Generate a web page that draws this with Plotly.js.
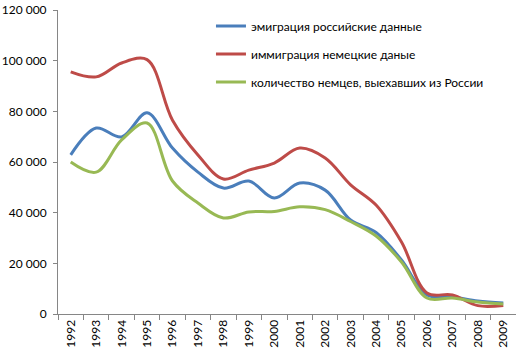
<!DOCTYPE html>
<html><head><meta charset="utf-8">
<script src="https://cdn.plot.ly/plotly-3.0.1.min.js"></script>
<style>html,body{margin:0;padding:0;background:#fff}#chart{width:516px;height:354px}</style>
</head><body><div id="chart"></div>
<script>
var years = ["1992","1993","1994","1995","1996","1997","1998","1999","2000","2001","2002","2003","2004","2005","2006","2007","2008","2009"];
var emigrationRu = [62800,73400,69900,79400,65500,56000,49700,52500,45800,51700,48900,37100,32200,21300,7500,6700,5100,4300];
var immigrationDe = [95600,93600,99100,100400,76500,62800,53300,56800,59600,65500,61600,51000,43000,28400,8300,7500,3300,3400];
var germansLeft = [60000,56000,68700,75400,52500,43800,37900,40300,40500,42300,41200,36500,30800,20500,6300,6300,4700,3900];
var names = ["эмиграция российские данные","иммиграция немецкие даные","количество немцев, выехавших из России"];
var colors = ["#4a7ebb","#be4b48","#98b954"];
var series = [emigrationRu, immigrationDe, germansLeft];
var traces = series.map(function(s,i){
  return {x: years, y: s, type:"scatter", mode:"lines", name: names[i], legendgroup:"g"+i,
    line:{color: colors[i], width:3, shape:"spline", smoothing:1}};
});
var font = {family:"Lato, 'Open Sans', sans-serif", size:12, color:"#000"};
var layout = {
  width:516, height:354, margin:{l:58,r:0,t:10,b:40},
  paper_bgcolor:"#fff", plot_bgcolor:"#fff", separators:", ", font: font,
  showlegend:true,
  legend:{x:0.334, y:0.995, xanchor:"left", yanchor:"top", traceorder:"grouped", tracegroupgap:9,
    bgcolor:"rgba(0,0,0,0)", font:font},
  xaxis:{type:"category", range:[-0.5,17.5], showline:true, linecolor:"#868686", linewidth:1,
    ticks:"outside", tickson:"boundaries", ticklen:5, tickcolor:"#868686", tickangle:-90,
    showgrid:false, zeroline:false, tickfont:font, fixedrange:true},
  yaxis:{range:[0,120000], dtick:20000, tickformat:",d", showline:true, linecolor:"#868686", linewidth:1,
    ticks:"outside", ticklen:4, tickcolor:"#868686", showgrid:false, zeroline:false, tickfont:font,
    ticklabelstandoff:4}
};
Plotly.newPlot("chart", traces, layout, {displayModeBar:false, staticPlot:true});
</script></body></html>
